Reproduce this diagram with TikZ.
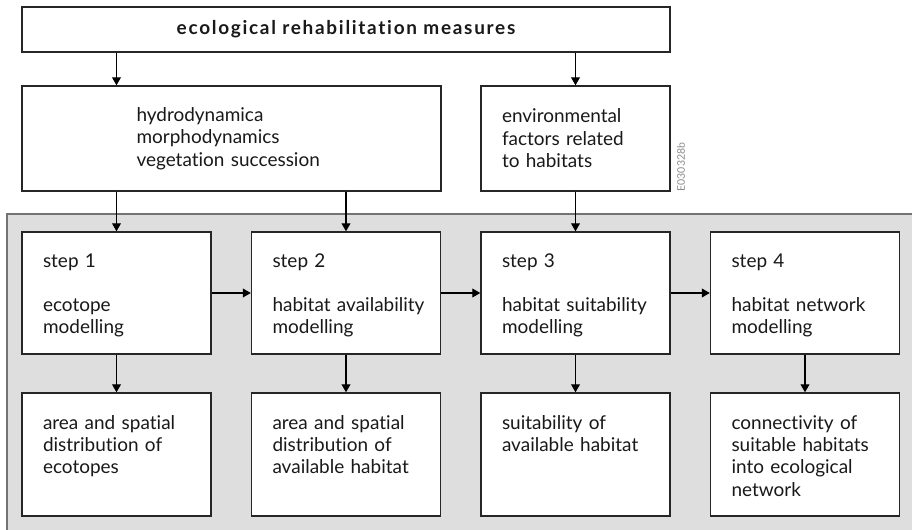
\documentclass[tikz,border=0pt]{standalone}
\usepackage{fontspec}
\setmainfont{Lato}[Ligatures=NoCommon]
\newfontfamily\titlefont{Lato}[LetterSpace=9, Ligatures=NoCommon]
\usetikzlibrary{arrows.meta}
\pgfdeclarelayer{bg}
\pgfsetlayers{bg,main}
\tikzset{
    every node/.style={font=\fontsize{10.8}{12.8}\selectfont, text=black!90},
    box/.style={draw=black!85, line width=0.8pt, fill=white, align=left},
    stepbox/.style={box, text width=2.94cm, inner xsep=0.42cm, inner ysep=0.44cm,
        text height=0.28cm, text depth=1.28cm},
    resbox/.style={stepbox, text depth=1.30cm},
    arr/.style={-{Triangle[length=4.5pt, width=5pt]}, line width=0.6pt}
}

\begin{document}
\begin{tikzpicture}
  \useasboundingbox (0cm, 0cm) rectangle (18.24cm, -10.6cm);

  \node (measures) [box, minimum width=12.96cm, minimum height=0.9cm,
    font=\fontsize{10.8}{12.8}\titlefont\bfseries] at (6.92cm, -0.59cm)
    {ecological rehabilitation measures};
  \node (hydro) [box, text width=3.8cm, minimum width=8.38cm, minimum height=2.1cm]
    at (4.63cm, -2.77cm) {hydrodynamica\\morphodynamics\\vegetation succession};
  \node (envfac) [box, text width=2.94cm, inner xsep=0.42cm, minimum height=2.1cm]
    at (11.51cm, -2.77cm) {environmental\\factors related\\to habitats};
  \node (code) [rotate=90, font=\fontsize{6}{7}\selectfont, text=black!45]
    at (13.62cm, -3.34cm) {E030328b};

  \node (s1) [stepbox] at (2.33cm, -5.86cm) {step 1\\[0.42cm]ecotope\\modelling};
  \node (s2) [stepbox] at (6.92cm, -5.86cm) {step 2\\[0.42cm]\mbox{habitat availability}\\modelling};
  \node (s3) [stepbox] at (11.51cm, -5.86cm) {step 3\\[0.42cm]\mbox{habitat suitability}\\modelling};
  \node (s4) [stepbox] at (16.10cm, -5.86cm) {step 4\\[0.42cm]habitat network\\modelling};

  \node (r1) [resbox] at (2.33cm, -9.09cm) {area and spatial\\distribution of\\ecotopes};
  \node (r2) [resbox] at (6.92cm, -9.09cm) {area and spatial\\distribution of\\available habitat};
  \node (r3) [resbox] at (11.51cm, -9.09cm) {suitability of\\available habitat};
  \node (r4) [resbox] at (16.10cm, -9.09cm) {connectivity of\\suitable habitats\\into ecological\\network};

  \begin{pgfonlayer}{bg}
    \draw [fill=black!13, draw=black!55, line width=0.8pt]
      (0.14cm, -4.28cm) rectangle (18.6cm, -11cm);
  \end{pgfonlayer}

  \draw [arr] (measures.south -| s1) -- (hydro.north -| s1);
  \draw [arr] (measures.south -| envfac) -- (envfac.north);

  \draw [arr] (hydro.south -| s1) -- (s1.north);
  \draw [arr] (hydro.south -| s2) -- (s2.north);
  \draw [arr] (envfac) -- (s3);

  \draw [arr] (s1) -- (s2);
  \draw [arr] (s2) -- (s3);
  \draw [arr] (s3) -- (s4);

  \draw [arr] (s1) -- (r1);
  \draw [arr] (s2) -- (r2);
  \draw [arr] (s3) -- (r3);
  \draw [arr] (s4) -- (r4);
\end{tikzpicture}
\end{document}
